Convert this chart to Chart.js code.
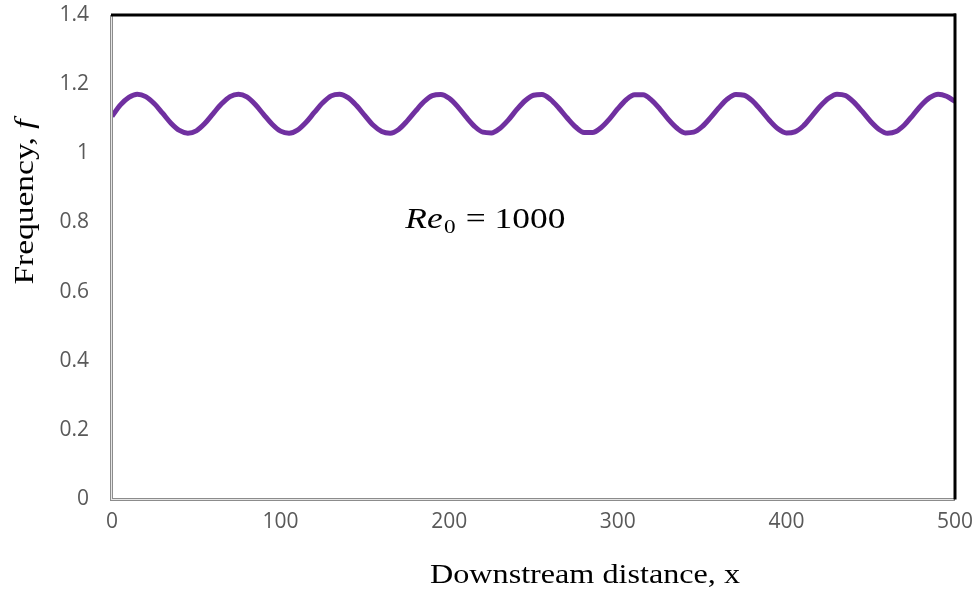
<!DOCTYPE html>
<html><head><meta charset="utf-8">
<script src="https://cdn.jsdelivr.net/npm/chart.js@4.4.0/dist/chart.umd.min.js"></script>
<style>html,body{margin:0;padding:0;background:#fff;} canvas{display:block;}</style>
</head><body>
<canvas id="c" width="978" height="592"></canvas>
<script>
const xValues = [0,5,10,15,20,25,30,35,40,45,50,55,60,65,70,75,80,85,90,95,100,105,110,115,120,125,130,135,140,145,150,155,160,165,170,175,180,185,190,195,200,205,210,215,220,225,230,235,240,245,250,255,260,265,270,275,280,285,290,295,300,305,310,315,320,325,330,335,340,345,350,355,360,365,370,375,380,385,390,395,400,405,410,415,420,425,430,435,440,445,450,455,460,465,470,475,480,485,490,495,500];
const frequency = [1.107,1.140,1.162,1.171,1.164,1.144,1.116,1.087,1.066,1.058,1.065,1.086,1.115,1.143,1.164,1.171,1.163,1.141,1.112,1.084,1.064,1.058,1.067,1.089,1.118,1.146,1.166,1.171,1.161,1.138,1.109,1.081,1.063,1.058,1.069,1.093,1.122,1.149,1.167,1.170,1.159,1.135,1.105,1.078,1.061,1.059,1.072,1.096,1.126,1.152,1.168,1.170,1.156,1.131,1.102,1.076,1.060,1.060,1.074,1.099,1.129,1.155,1.169,1.169,1.154,1.128,1.098,1.073,1.059,1.061,1.077,1.103,1.132,1.157,1.170,1.168,1.151,1.124,1.095,1.071,1.059,1.062,1.079,1.107,1.136,1.159,1.171,1.167,1.148,1.121,1.092,1.069,1.058,1.063,1.082,1.110,1.139,1.161,1.171,1.165,1.150];
const xTickLabels = ['0','100','200','300','400','500'];
const yTickLabels = ['0','0.2','0.4','0.6','0.8','1','1.2','1.4'];
const xTitle = 'Downstream distance, x';
const yTitleText = 'Frequency, ';
const yTitleSymbol = 'f';
const noteSymbol = 'Re';
const noteSubscript = '0';
const noteValue = ' = 1000';
const notePosition = [174, 0.784];

const framePlugin = {
  id: 'frame',
  afterDraw(chart) {
    const ctx = chart.ctx;
    const a = chart.chartArea;
    ctx.save();
    ctx.fillStyle = '#8c8c8c';
    ctx.fillRect(a.left - 2, a.top, 3, a.bottom - a.top + 1);
    ctx.fillRect(a.left - 2, a.bottom - 1, a.right - a.left + 2, 3);
    ctx.fillStyle = '#e6e6e6';
    ctx.fillRect(a.left - 1, a.top, 1, a.bottom - a.top);
    ctx.fillRect(a.left - 1, a.bottom, a.right - a.left, 1);
    ctx.fillStyle = '#000';
    ctx.fillRect(a.left - 1, a.top - 1.5, a.right - a.left + 2, 3);
    ctx.fillRect(a.right - 1.5, a.top - 1.5, 3, a.bottom - a.top + 2);

    ctx.fillStyle = '#000';
    ctx.font = '28px "Liberation Serif"';
    ctx.textBaseline = 'alphabetic';
    ctx.textAlign = 'center';
    let w = ctx.measureText(xTitle).width;
    ctx.save();
    ctx.translate(585, 583);
    ctx.scale(310 / w, 1);
    ctx.fillText(xTitle, 0, 0);
    ctx.restore();

    ctx.textAlign = 'left';
    ctx.font = '28px "Liberation Serif"';
    const w1 = ctx.measureText(yTitleText).width;
    ctx.font = 'italic 28px "Liberation Serif"';
    const w2 = ctx.measureText(yTitleSymbol).width;
    const sc = 165 / (w1 + w2);
    ctx.save();
    ctx.translate(33, 202);
    ctx.rotate(-Math.PI / 2);
    ctx.scale(sc, 1);
    ctx.translate(-(w1 + w2) / 2, 0);
    ctx.font = '28px "Liberation Serif"';
    ctx.fillText(yTitleText, 0, 0);
    ctx.font = 'italic 28px "Liberation Serif"';
    ctx.fillText(yTitleSymbol, w1, 0);
    ctx.restore();

    const px = chart.scales.x.getPixelForValue(notePosition[0]);
    const py = chart.scales.y.getPixelForValue(notePosition[1]);
    ctx.font = 'italic 29px "Liberation Serif"';
    const a1 = ctx.measureText(noteSymbol).width;
    ctx.font = '19px "Liberation Serif"';
    const a2 = ctx.measureText(noteSubscript).width;
    ctx.font = '29px "Liberation Serif"';
    const a3 = ctx.measureText(noteValue).width;
    const tot = a1 + a2 + 2 + a3;
    ctx.save();
    ctx.translate(px, py);
    ctx.scale(160 / tot, 1);
    ctx.font = 'italic 29px "Liberation Serif"';
    ctx.fillText(noteSymbol, 0, 0);
    ctx.font = '19px "Liberation Serif"';
    ctx.fillText(noteSubscript, a1 + 1, 5);
    ctx.font = '29px "Liberation Serif"';
    ctx.fillText(noteValue, a1 + a2 + 2, 0);
    ctx.restore();
    ctx.restore();
  }
};

new Chart(document.getElementById('c'), {
  type: 'line',
  data: {
    datasets: [{
      data: xValues.map((x, i) => ({ x: x, y: frequency[i] })),
      borderColor: '#7030A0',
      borderWidth: 5,
      pointRadius: 0,
      cubicInterpolationMode: 'monotone',
      fill: false
    }]
  },
  options: {
    responsive: false,
    animation: false,
    layout: { padding: { top: 15, right: 23, left: 0, bottom: 0 } },
    plugins: { legend: { display: false }, tooltip: { enabled: false } },
    scales: {
      x: {
        type: 'linear', min: 0, max: 500,
        grid: { display: false, drawTicks: false },
        border: { display: false },
        ticks: { stepSize: 100, padding: 10, color: '#595959', font: { family: 'Open Sans', size: 21 }, maxRotation: 0,
          callback: (v, i) => xTickLabels[i] },
        afterFit: s => { s.height = 93; s.paddingLeft = 0; s.paddingRight = 0; }
      },
      y: {
        min: 0, max: 1.4,
        grid: { display: false, drawTicks: false },
        border: { display: false },
        ticks: { stepSize: 0.2, padding: 23, color: '#595959', font: { family: 'Open Sans', size: 21 },
          callback: (v, i) => yTickLabels[i] },
        afterFit: s => { s.width = 112; s.paddingTop = 0; s.paddingBottom = 0; }
      }
    }
  },
  plugins: [framePlugin]
});
</script>
</body></html>
